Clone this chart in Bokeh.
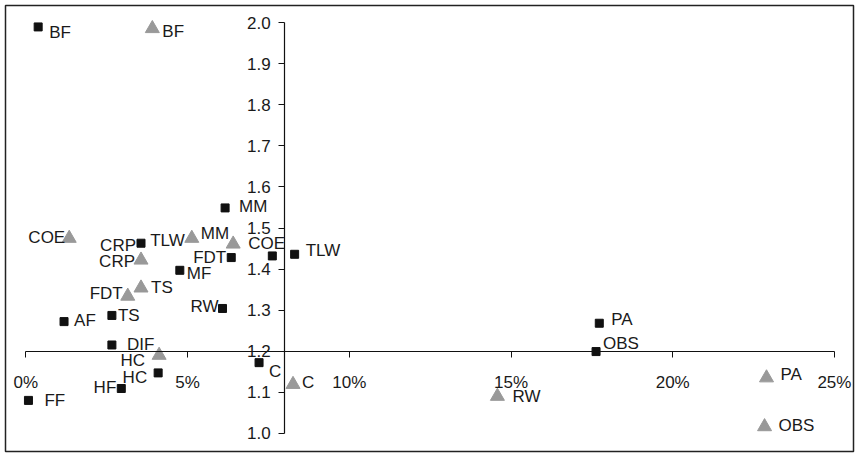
from bokeh.plotting import figure
from bokeh.models import ColumnDataSource, LinearAxis, NumeralTickFormatter, FixedTicker, Range1d
from bokeh.core.properties import value
from bokeh.embed import file_html
from bokeh.resources import INLINE

# ---- data (x in percent, y ratio) ----
black_labels = ["BF", "MM", "CRP", "FDT", "COE", "TLW", "MF", "RW", "TS", "AF",
                "DIF", "HC", "HF", "FF", "C", "PA", "OBS"]
black_x = [0.38, 6.16, 3.56, 6.35, 7.62, 8.31, 4.76, 6.08, 2.66, 1.18,
           2.66, 4.09, 2.95, 0.08, 7.21, 17.73, 17.63]
black_y = [1.990, 1.549, 1.463, 1.428, 1.432, 1.436, 1.397, 1.304, 1.287, 1.272,
           1.215, 1.147, 1.109, 1.080, 1.172, 1.268, 1.199]

gray_labels = ["BF", "COE", "CRP", "TLW", "MM", "FDT", "TS", "HC", "C", "RW", "PA", "OBS"]
gray_x = [3.91, 1.34, 3.56, 5.13, 6.41, 3.15, 3.56, 4.12, 8.26, 14.58, 22.90, 22.84]
gray_y = [1.986, 1.475, 1.422, 1.475, 1.461, 1.334, 1.354, 1.190, 1.119, 1.090, 1.135, 1.016]

x_ticks = [0, 5, 10, 15, 20, 25]
y_ticks = [1.0, 1.1, 1.2, 1.3, 1.4, 1.5, 1.6, 1.7, 1.8, 1.9, 2.0]

# ---- label placement (style) ----
black_align = ["left", "left", "right", "right", "left", "left", "left", "right", "left", "left",
               "left", "right", "right", "left", "left", "left", "left"]
black_dx = [11, 14, -5, -5, -24, 11, 7, -4, 6, 10, 15, -11, -5, 16, 10, 12, 7]
black_dy = [6, -1, 2, 0, -12, -4, 3, -2, 0, -1, 0, 5, -1, 0, 9, -4, -8]

gray_align = ["left", "right", "right", "right", "right", "right", "left", "right", "left", "left", "left", "left"]
gray_dx = [10, -4, -6, -7, -4, -5, 10, -14, 9, 15, 14, 14]
gray_dy = [3, -1, 1, 2, -11, -3, 0, 5, -2, 0, -3, -1]

FONT = "Liberation Sans"
FS = "17px"
TXT = "#1a1a1a"

bsrc = ColumnDataSource(dict(x=[v / 100 for v in black_x], y=black_y, t=black_labels,
                             a=black_align, dx=black_dx, dy=black_dy))
gsrc = ColumnDataSource(dict(x=[v / 100 for v in gray_x], y=gray_y, t=gray_labels,
                             a=gray_align, dx=gray_dx, dy=gray_dy))

p = figure(width=858, height=456, output_backend="svg", toolbar_location=None,
           x_range=Range1d(-0.0063, 0.2559), y_range=Range1d(0.9555, 2.0422),
           x_axis_type=None, y_axis_type=None, min_border=5)
p.grid.visible = False
p.outline_line_color = "#222222"
p.outline_line_width = 1.5
p.background_fill_color = "white"
p.border_fill_color = "white"

xaxis = LinearAxis(fixed_location=1.2, bounds=(0, 0.25))
xaxis.ticker = FixedTicker(ticks=[v / 100 for v in x_ticks])
xaxis.formatter = NumeralTickFormatter(format="0%")
xaxis.major_tick_in = 0
xaxis.major_tick_out = 6
xaxis.minor_tick_line_color = None
xaxis.major_label_standoff = 16
xaxis.axis_line_color = "#111111"
xaxis.major_tick_line_color = "#111111"
xaxis.axis_line_width = 1.2
xaxis.major_label_text_font = FONT
xaxis.major_label_text_font_size = FS
xaxis.major_label_text_color = TXT
p.add_layout(xaxis, "below")

yaxis = LinearAxis(fixed_location=0.08, bounds=(1.0, 2.0))
yaxis.ticker = FixedTicker(ticks=y_ticks)
yaxis.formatter = NumeralTickFormatter(format="0.0")
yaxis.major_tick_in = 0
yaxis.major_tick_out = 6
yaxis.minor_tick_line_color = None
yaxis.major_label_standoff = 8
yaxis.axis_line_color = "#111111"
yaxis.major_tick_line_color = "#111111"
yaxis.axis_line_width = 1.2
yaxis.major_label_text_font = FONT
yaxis.major_label_text_font_size = FS
yaxis.major_label_text_color = TXT
p.add_layout(yaxis, "left")

p.scatter("x", "y", source=bsrc, marker="square", size=8, fill_color="#111111", line_color="#111111")
p.scatter("x", "y", source=gsrc, marker="triangle", size=14, fill_color="#999999", line_color="#999999")

for src in (bsrc, gsrc):
    p.text("x", "y", text="t", source=src, x_offset="dx", y_offset="dy", text_align="a",
           text_baseline="middle", text_font=value(FONT), text_font_size=FS, text_color=TXT)

open("out.html", "w").write(file_html(p, INLINE))
